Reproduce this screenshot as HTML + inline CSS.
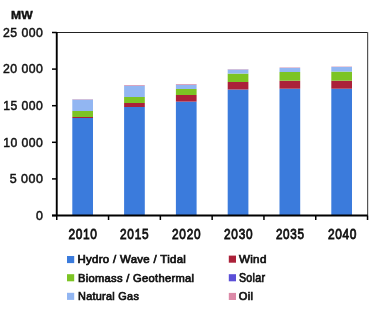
<!DOCTYPE html>
<html><head><meta charset="utf-8"><style>
html,body{margin:0;padding:0;background:#fff;}
svg{display:block;will-change:transform;}
text{font-family:"Liberation Sans",sans-serif;fill:#111;}
text.b{font-weight:bold;}
</style></head><body>
<svg width="371" height="310" viewBox="0 0 371 310">
<rect x="72.30" y="118" width="20.7" height="97.50" fill="#3b7bdc"/>
<rect x="72.30" y="117" width="20.7" height="1.00" fill="#ab2139"/>
<rect x="72.30" y="111" width="20.7" height="6.00" fill="#7cc424"/>
<rect x="72.30" y="99.5" width="20.7" height="11.50" fill="#92b6f2"/>
<rect x="72.30" y="99" width="20.7" height="0.50" fill="#d8a4c0"/>
<text transform="translate(68.40,239.00) scale(0.8583,1)" font-size="13.90" class="t" stroke="#111" stroke-width="0.8" letter-spacing="0.8">2010</text>
<rect x="124.10" y="107" width="20.7" height="108.50" fill="#3b7bdc"/>
<rect x="124.10" y="103" width="20.7" height="4.00" fill="#ab2139"/>
<rect x="124.10" y="97" width="20.7" height="6.00" fill="#7cc424"/>
<rect x="124.10" y="86" width="20.7" height="11.00" fill="#92b6f2"/>
<rect x="124.10" y="85" width="20.7" height="1.00" fill="#d8a4c0"/>
<text transform="translate(120.10,239.00) scale(0.8523,1)" font-size="13.90" class="t" stroke="#111" stroke-width="0.8" letter-spacing="0.8">2015</text>
<rect x="175.90" y="101.6" width="20.7" height="113.90" fill="#3b7bdc"/>
<rect x="175.90" y="95" width="20.7" height="6.60" fill="#ab2139"/>
<rect x="175.90" y="89" width="20.7" height="6.00" fill="#7cc424"/>
<rect x="175.90" y="85" width="20.7" height="4.00" fill="#92b6f2"/>
<rect x="175.90" y="84" width="20.7" height="1.00" fill="#d8a4c0"/>
<text transform="translate(172.10,239.00) scale(0.8523,1)" font-size="13.90" class="t" stroke="#111" stroke-width="0.8" letter-spacing="0.8">2020</text>
<rect x="227.70" y="89.5" width="20.7" height="126.00" fill="#3b7bdc"/>
<rect x="227.70" y="82" width="20.7" height="7.50" fill="#ab2139"/>
<rect x="227.70" y="73.6" width="20.7" height="8.40" fill="#7cc424"/>
<rect x="227.70" y="69.5" width="20.7" height="4.10" fill="#92b6f2"/>
<rect x="227.70" y="69" width="20.7" height="0.50" fill="#d8a4c0"/>
<text transform="translate(224.10,239.00) scale(0.8523,1)" font-size="13.90" class="t" stroke="#111" stroke-width="0.8" letter-spacing="0.8">2030</text>
<rect x="279.50" y="88.7" width="20.7" height="126.80" fill="#3b7bdc"/>
<rect x="279.50" y="80.7" width="20.7" height="8.00" fill="#ab2139"/>
<rect x="279.50" y="72" width="20.7" height="8.70" fill="#7cc424"/>
<rect x="279.50" y="68" width="20.7" height="4.00" fill="#92b6f2"/>
<rect x="279.50" y="67.4" width="20.7" height="0.60" fill="#d8a4c0"/>
<text transform="translate(275.90,239.00) scale(0.8433,1)" font-size="13.90" class="t" stroke="#111" stroke-width="0.8" letter-spacing="0.8">2035</text>
<rect x="331.30" y="88.7" width="20.7" height="126.80" fill="#3b7bdc"/>
<rect x="331.30" y="80.7" width="20.7" height="8.00" fill="#ab2139"/>
<rect x="331.30" y="71.6" width="20.7" height="9.10" fill="#7cc424"/>
<rect x="331.30" y="67" width="20.7" height="4.60" fill="#92b6f2"/>
<rect x="331.30" y="66.5" width="20.7" height="0.50" fill="#d8a4c0"/>
<text transform="translate(327.90,239.00) scale(0.8583,1)" font-size="13.90" class="t" stroke="#111" stroke-width="0.8" letter-spacing="0.8">2040</text>
<line x1="56.75" y1="32.5" x2="367.8" y2="32.5" stroke="#222" stroke-width="1.1"/>
<line x1="367.6" y1="32" x2="367.6" y2="215.5" stroke="#555" stroke-width="1.2"/>
<line x1="52" y1="32.50" x2="56.75" y2="32.50" stroke="#000" stroke-width="1.5"/>
<text transform="translate(3.00,36.85) scale(0.9224,1)" font-size="13.32" class="t" stroke="#111" stroke-width="0.5" letter-spacing="0.5">25 000</text>
<line x1="52" y1="69.10" x2="56.75" y2="69.10" stroke="#000" stroke-width="1.5"/>
<text transform="translate(3.00,73.45) scale(0.9224,1)" font-size="13.32" class="t" stroke="#111" stroke-width="0.5" letter-spacing="0.5">20 000</text>
<line x1="52" y1="105.70" x2="56.75" y2="105.70" stroke="#000" stroke-width="1.5"/>
<text transform="translate(3.20,110.05) scale(0.9178,1)" font-size="13.32" class="t" stroke="#111" stroke-width="0.5" letter-spacing="0.5">15 000</text>
<line x1="52" y1="142.30" x2="56.75" y2="142.30" stroke="#000" stroke-width="1.5"/>
<text transform="translate(3.20,146.65) scale(0.9178,1)" font-size="13.32" class="t" stroke="#111" stroke-width="0.5" letter-spacing="0.5">10 000</text>
<line x1="52" y1="178.90" x2="56.75" y2="178.90" stroke="#000" stroke-width="1.5"/>
<text transform="translate(9.70,183.25) scale(0.9395,1)" font-size="13.32" class="t" stroke="#111" stroke-width="0.5" letter-spacing="0.5">5 000</text>
<line x1="52" y1="215.50" x2="56.75" y2="215.50" stroke="#000" stroke-width="1.5"/>
<text transform="translate(36.00,219.85) scale(0.9314,1)" font-size="13.32" class="t" stroke="#111" stroke-width="0.5" letter-spacing="0.5">0</text>
<line x1="56.75" y1="215.5" x2="56.75" y2="220" stroke="#000" stroke-width="1.5"/>
<line x1="108.55" y1="215.5" x2="108.55" y2="220" stroke="#000" stroke-width="1.5"/>
<line x1="160.35" y1="215.5" x2="160.35" y2="220" stroke="#000" stroke-width="1.5"/>
<line x1="212.15" y1="215.5" x2="212.15" y2="220" stroke="#000" stroke-width="1.5"/>
<line x1="263.95" y1="215.5" x2="263.95" y2="220" stroke="#000" stroke-width="1.5"/>
<line x1="315.75" y1="215.5" x2="315.75" y2="220" stroke="#000" stroke-width="1.5"/>
<line x1="367.55" y1="215.5" x2="367.55" y2="220" stroke="#000" stroke-width="1.5"/>
<line x1="56.75" y1="32.0" x2="56.75" y2="215.5" stroke="#000" stroke-width="1.9"/>
<line x1="52" y1="215.5" x2="367.8" y2="215.5" stroke="#000" stroke-width="1.9"/>
<text transform="translate(11.10,18.50) scale(1.0932,1)" font-size="11.12" class="b" stroke="#111" stroke-width="0.4">MW</text>
<rect x="67" y="256" width="7.2" height="7.1" fill="#3b7bdc"/>
<rect x="67" y="274.2" width="7.2" height="7.1" fill="#7cc424"/>
<rect x="67" y="292.8" width="7.2" height="7.1" fill="#92b6f2"/>
<rect x="228.8" y="255.6" width="7.2" height="7.1" fill="#ab2139"/>
<rect x="228.8" y="274.2" width="7.2" height="7.1" fill="#5b4fd8"/>
<rect x="228.8" y="292.9" width="7.2" height="7.1" fill="#dc8aa8"/>
<text transform="translate(77.50,262.80) scale(1.0489,1)" font-size="10.90" class="t" stroke="#111" stroke-width="0.7" letter-spacing="0.3">Hydro / Wave / Tidal</text>
<text transform="translate(78.00,281.60) scale(0.9981,1)" font-size="11.19" class="t" stroke="#111" stroke-width="0.7" letter-spacing="0.3">Biomass / Geothermal</text>
<text transform="translate(78.00,299.60) scale(0.9712,1)" font-size="11.19" class="t" stroke="#111" stroke-width="0.7" letter-spacing="0.3">Natural Gas</text>
<text transform="translate(238.90,262.80) scale(0.9921,1)" font-size="11.77" class="t" stroke="#111" stroke-width="0.7" letter-spacing="0.3">Wind</text>
<text transform="translate(238.90,281.70) scale(0.8709,1)" font-size="12.32" class="t" stroke="#111" stroke-width="0.7" letter-spacing="0.3">Solar</text>
<text transform="translate(238.80,299.80) scale(0.9961,1)" font-size="11.17" class="t" stroke="#111" stroke-width="0.7" letter-spacing="0.3">Oil</text>
</svg>
</body></html>
